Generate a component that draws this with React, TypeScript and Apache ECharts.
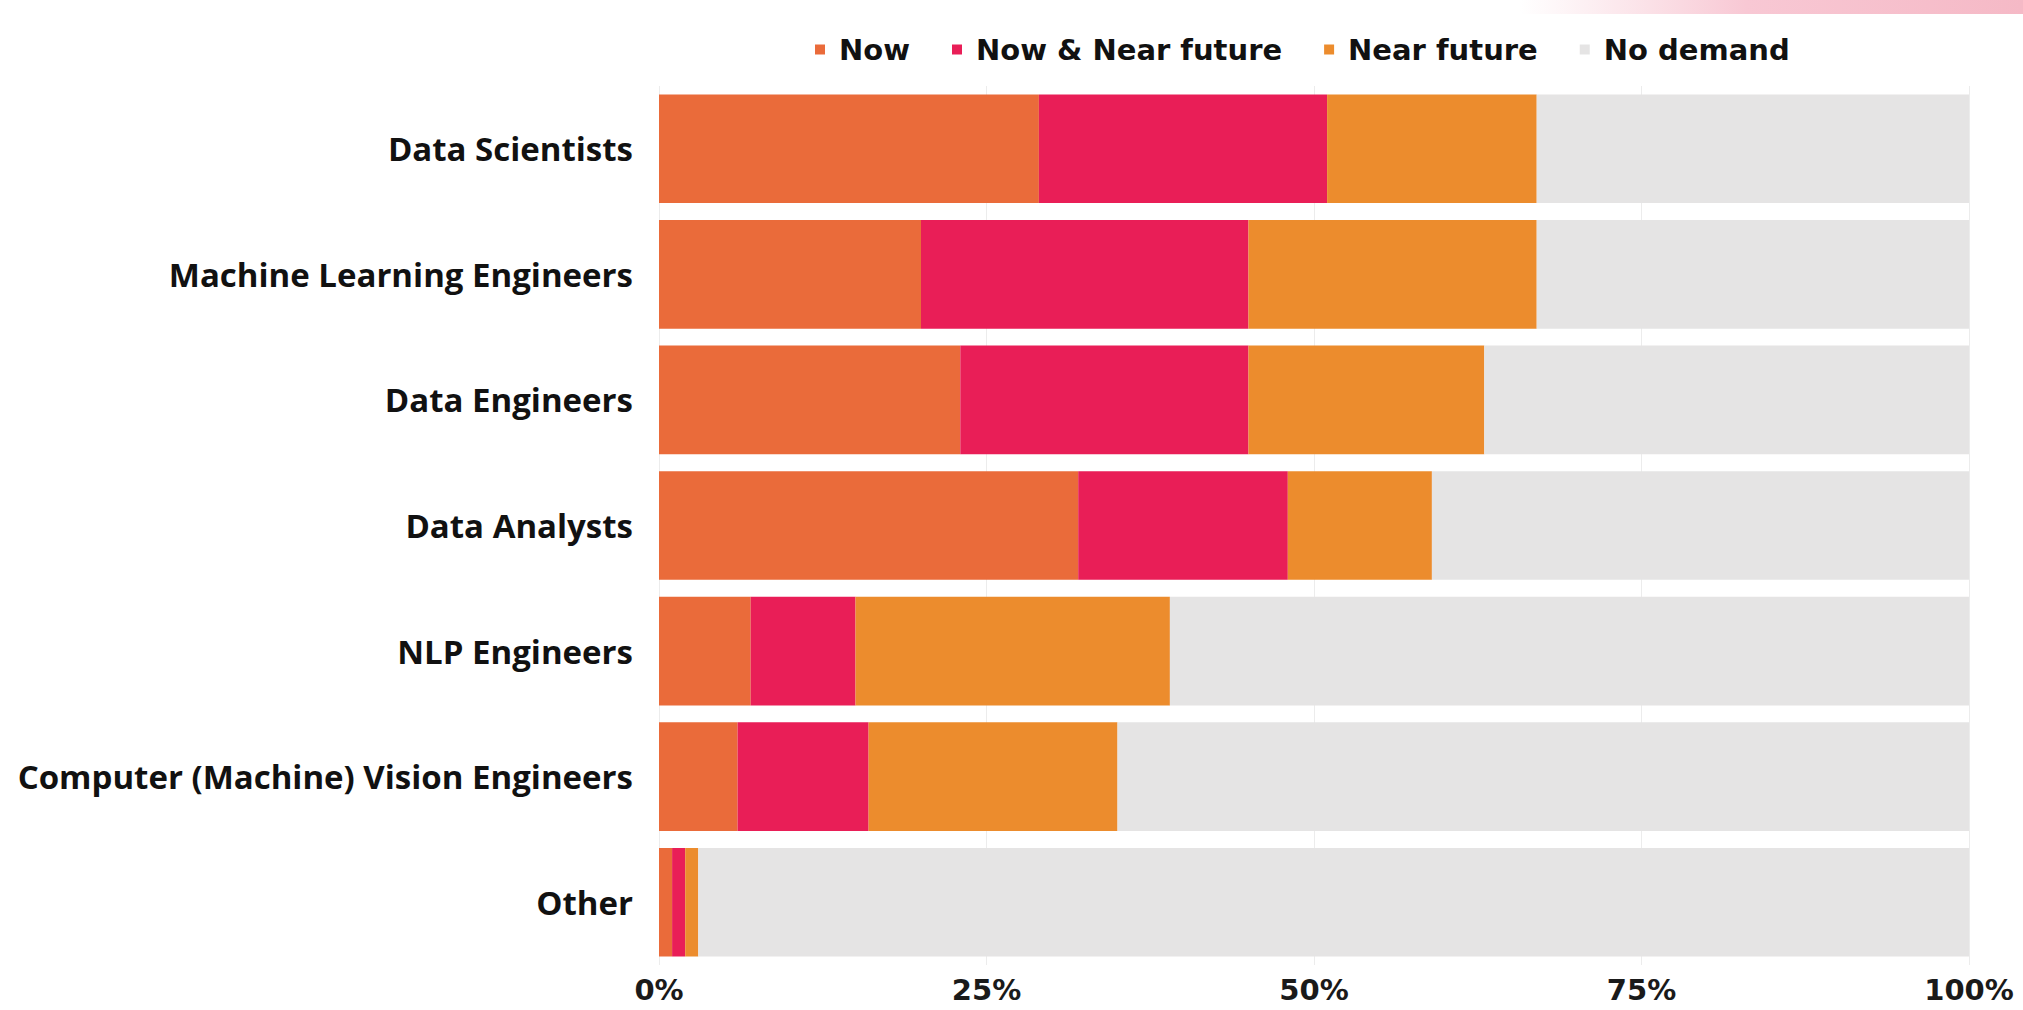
import React, { useEffect, useRef } from "react";
import * as echarts from "echarts";

const categories = [
  "Data Scientists",
  "Machine Learning Engineers",
  "Data Engineers",
  "Data Analysts",
  "NLP Engineers",
  "Computer (Machine) Vision Engineers",
  "Other",
];
const seriesNames = ["Now", "Now & Near future", "Near future", "No demand"];
const nowValues = [29, 20, 23, 32, 7, 6, 1];
const nowNearValues = [22, 25, 22, 16, 8, 10, 1];
const nearValues = [16, 22, 18, 11, 24, 19, 1];
const noDemandValues = [33, 33, 37, 41, 61, 65, 97];
const tickLabels = ["0%", "25%", "50%", "75%", "100%"];
const colors = ["#EA6B3A", "#E91E57", "#EC8C2D", "#E5E4E4"];

export default function App() {
  const ref = useRef<HTMLDivElement>(null);
  useEffect(() => {
    if (!ref.current) return;
    const chart = echarts.init(ref.current, undefined, { renderer: "svg" });
    const data = [nowValues, nowNearValues, nearValues, noDemandValues];
    chart.setOption({
      animation: false,
      backgroundColor: "#ffffff",
      graphic: [
        {
          type: "rect",
          shape: { x: 1520, y: 0, width: 503, height: 14 },
          style: {
            fill: new echarts.graphic.LinearGradient(0, 0, 1, 0, [
              { offset: 0, color: "rgba(248,205,215,0)" },
              { offset: 0.45, color: "rgba(248,200,212,1)" },
              { offset: 1, color: "rgba(245,185,198,1)" },
            ]),
          },
          silent: true,
        },
      ],
      legend: {
        top: 35,
        left: 815,
        itemWidth: 10,
        itemHeight: 10,
        itemGap: 42,
        icon: "rect",
        padding: 0,
        textStyle: {
          fontFamily: "DejaVu Sans",
          fontWeight: "bold",
          fontSize: 29,
          color: "#111",
          padding: [0, 0, 0, 9],
        },
        data: seriesNames,
      },
      grid: { left: 659, right: 54, top: 86, bottom: 45 },
      xAxis: {
        type: "value",
        min: 0,
        max: 100,
        interval: 25,
        axisLine: { show: false },
        axisTick: { show: false },
        splitLine: { show: true, lineStyle: { color: "#ececec", width: 1 } },
        axisLabel: {
          margin: 10,
          fontFamily: "DejaVu Sans",
          fontWeight: "bold",
          fontSize: 29,
          color: "#1a1a1a",
          formatter: (v: number) => tickLabels[Math.round(v / 25)],
        },
      },
      yAxis: {
        type: "category",
        inverse: true,
        data: categories,
        axisLine: { show: false },
        axisTick: { show: false },
        axisLabel: {
          margin: 26,
          fontFamily: "Open Sans",
          fontWeight: "bold",
          fontSize: 33,
          color: "#111",
        },
      },
      series: seriesNames.map((name, i) => ({
        name,
        type: "bar",
        stack: "total",
        barCategoryGap: "13.5%",
        itemStyle: { color: colors[i] },
        emphasis: { disabled: true },
        data: data[i],
      })),
    });
    return () => chart.dispose();
  }, []);
  return (
    <div
      ref={ref}
      style={{ position: "absolute", left: 0, top: 0, width: 2023, height: 1010 }}
    />
  );
}
